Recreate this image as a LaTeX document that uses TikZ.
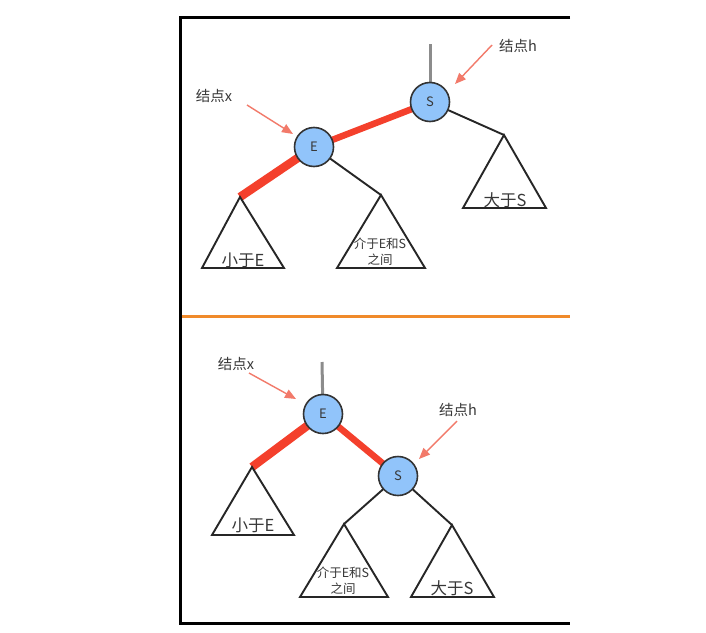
\documentclass[tikz,border=0pt]{standalone}
\usepackage{fontspec}
\setmainfont{Noto Sans CJK SC}
\usetikzlibrary{arrows.meta,backgrounds}
\definecolor{nodeblue}{HTML}{91C4FA}
\definecolor{rededge}{HTML}{F4402C}
\definecolor{arrowred}{HTML}{F27A6A}
\definecolor{txt}{HTML}{383838}
\definecolor{orangeline}{HTML}{F08A2A}
\tikzset{
  tnode/.style={circle, draw=black!80, line width=1.6pt, fill=nodeblue, minimum size=39pt, inner sep=0pt, font=\fontsize{13}{13}\selectfont, text=txt},
  redge/.style={line width=8.5pt, draw=rededge},
  redgethin/.style={line width=6.5pt, draw=rededge},
  bedge/.style={line width=1.9pt, draw=black!85},
  stub/.style={line width=3pt, draw=black!45},
  tri/.style={line width=1.9pt, draw=black!85},
  tlbl/.style={font=\fontsize{16.5}{16.5}\selectfont, text=txt, inner sep=0pt},
  mlbl/.style={font=\fontsize{12.5}{16}\selectfont, text=txt, inner sep=0pt, align=center},
  plbl/.style={font=\fontsize{14.5}{14.5}\selectfont, text=txt, inner sep=0pt},
  pointer/.style={draw=arrowred, line width=1.4pt, -{Triangle[length=11pt,width=9pt]}},
  frame/.style={line width=3pt, draw=black},
}
\begin{document}
\begin{tikzpicture}[x=1pt,y=-1pt]
\useasboundingbox (0,0) rectangle (706,632);
\begin{scope}[on background layer]
  \fill[white] (0,0) rectangle (706,632);
\end{scope}
% frame
\draw[frame] (570,17) -- (180,17) -- (180,623) -- (570,623);
\draw[line width=3pt, draw=orangeline] (181.5,316) -- (570,316);

% ---------- top tree ----------
\node[tnode] (S1) at (430,102) {S};
\node[tnode] (E1) at (314,147) {E};
\coordinate (S1top) at (430,44);
\coordinate (L1) at (240,197);
\coordinate (M1) at (381,195);
\coordinate (R1) at (504,135);
\begin{scope}[on background layer]
  \draw[stub] (S1.center) -- (S1top);
  \draw[redgethin] (E1.center) -- (S1.center);
  \draw[redge] (E1.center) -- (L1);
  \draw[bedge] (E1.center) -- (M1);
  \draw[bedge] (S1.center) -- (R1);
\end{scope}
\draw[tri] (L1) -- (202,268) -- (284,268) -- cycle;
\draw[tri] (M1) -- (337,268) -- (425,268) -- cycle;
\draw[tri] (R1) -- (463,208) -- (546,208) -- cycle;
\node[tlbl] (tL1) at (243,260) {小于E};
\node[mlbl] (tM1) at (380,252) {介于E和S\\之间};
\node[tlbl] (tR1) at (505,200) {大于S};
\node[plbl] (px1) at (214,96) {结点x};
\node[plbl] (ph1) at (518,46) {结点h};
\coordinate (px1a) at (247,105);
\coordinate (ph1a) at (492,45);
\draw[pointer] (px1a) -- (293,134);
\draw[pointer] (ph1a) -- (455,84);

% ---------- bottom tree ----------
\node[tnode] (E2) at (323,414) {E};
\node[tnode] (S2) at (398,476) {S};
\coordinate (E2top) at (322,362);
\coordinate (L2) at (252,467);
\coordinate (M2) at (344,524);
\coordinate (R2) at (452,525);
\begin{scope}[on background layer]
  \draw[stub] (E2.center) -- (E2top);
  \draw[redgethin] (E2.center) -- (S2.center);
  \draw[redge] (E2.center) -- (L2);
  \draw[bedge] (S2.center) -- (M2);
  \draw[bedge] (S2.center) -- (R2);
\end{scope}
\draw[tri] (L2) -- (212,535) -- (294,535) -- cycle;
\draw[tri] (M2) -- (300,597) -- (388,597) -- cycle;
\draw[tri] (R2) -- (411,597) -- (494,597) -- cycle;
\node[tlbl] (tL2) at (253,525) {小于E};
\node[mlbl] (tM2) at (343,581) {介于E和S\\之间};
\node[tlbl] (tR2) at (452,588) {大于S};
\node[plbl] (px2) at (236,364) {结点x};
\node[plbl] (ph2) at (458,410) {结点h};
\coordinate (px2a) at (249,373);
\coordinate (ph2a) at (457,421);
\draw[pointer] (px2a) -- (296,399);
\draw[pointer] (ph2a) -- (419,459);
\end{tikzpicture}
\end{document}
